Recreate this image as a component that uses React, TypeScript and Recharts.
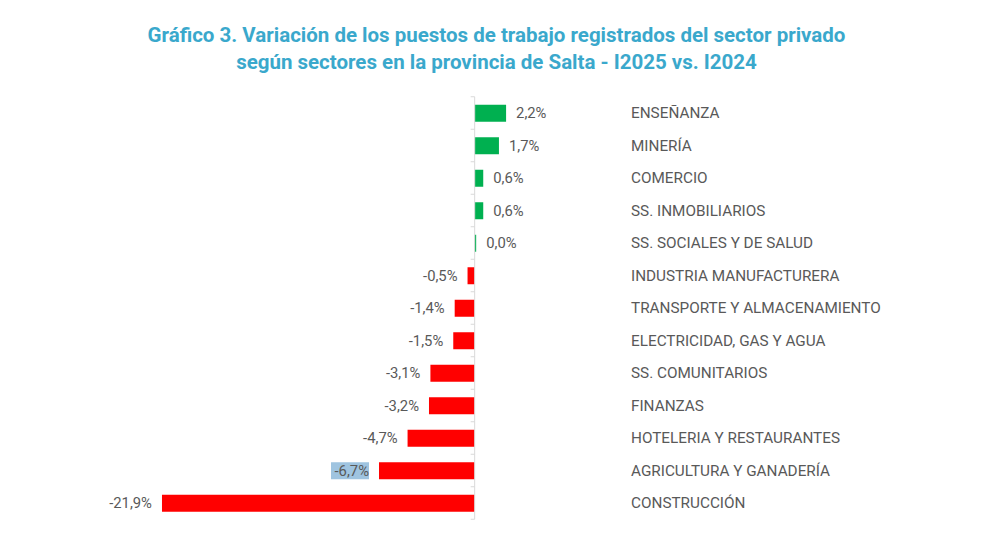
import React from "react";
import {
  BarChart,
  Bar,
  XAxis,
  YAxis,
  Cell,
  LabelList,
  ReferenceLine,
} from "recharts";

// Sectors, top to bottom
const sectors = [
  "ENSEÑANZA",
  "MINERÍA",
  "COMERCIO",
  "SS. INMOBILIARIOS",
  "SS. SOCIALES Y DE SALUD",
  "INDUSTRIA MANUFACTURERA",
  "TRANSPORTE Y ALMACENAMIENTO",
  "ELECTRICIDAD, GAS Y AGUA",
  "SS. COMUNITARIOS",
  "FINANZAS",
  "HOTELERIA Y RESTAURANTES",
  "AGRICULTURA Y GANADERÍA",
  "CONSTRUCCIÓN",
];

// Year-over-year change (%), I2025 vs. I2024
const variation = [2.2, 1.7, 0.6, 0.6, 0.0, -0.5, -1.4, -1.5, -3.1, -3.2, -4.7, -6.7, -21.9];

// Label that appears highlighted
const highlighted = ["AGRICULTURA Y GANADERÍA"];

const xDomain: [number, number] = [-24, 8];

const POSITIVE = "#00b050";
const NEGATIVE = "#ff0000";
const TEXT = "#595959";
const FONT = "Roboto, 'Noto Sans', sans-serif";

const data = sectors.map((sector, i) => ({ sector, value: variation[i] }));

const fmt = (v: number) => `${v.toFixed(1).replace(".", ",")}%`;

function ValueLabel(props: any) {
  const { x, y, width, height, value, index } = props;
  const left = Math.min(x, x + width);
  const right = Math.max(x, x + width);
  const cy = y + height / 2;
  const neg = value < 0;
  const tx = neg ? left - 10 : right + 10;
  const text = fmt(value);
  const isHl = highlighted.includes(sectors[index]);
  return (
    <g>
      {isHl && (
        <rect
          x={tx - 38}
          y={cy - 8.5}
          width={38}
          height={17}
          fill="#9fc4e0"
        />
      )}
      <text
        x={tx}
        y={cy}
        dy="0.35em"
        textAnchor={neg ? "end" : "start"}
        fontSize={14.8}
        fontFamily={FONT}
        fill={TEXT}
      >
        {text}
      </text>
    </g>
  );
}

// Zero axis with small tick marks between categories
function ZeroAxis(props: any) {
  const { x1, y1, y2 } = props;
  const top = Math.min(y1, y2);
  const bottom = Math.max(y1, y2);
  const step = (bottom - top) / sectors.length;
  const ticks = Array.from({ length: sectors.length + 1 }, (_, i) => top + i * step);
  return (
    <g>
      <line x1={x1} x2={x1} y1={top} y2={bottom} stroke="#d9d9d9" strokeWidth={1} />
      {ticks.map((t, i) => (
        <line key={i} x1={x1 - 4} x2={x1} y1={t} y2={t} stroke="#d9d9d9" strokeWidth={1} />
      ))}
    </g>
  );
}

export default function App() {
  return (
    <div
      style={{
        position: "absolute",
        left: 0,
        top: 0,
        width: 990,
        height: 535,
        background: "#ffffff",
      }}
    >
      <div
        style={{
          position: "absolute",
          left: 0,
          top: 22,
          width: 993,
          textAlign: "center",
          fontFamily: FONT,
          fontWeight: 700,
          fontSize: 20.5,
          lineHeight: "27px",
          color: "#3aa8cc",
        }}
      >
        Gráfico 3. Variación de los puestos de trabajo registrados del sector privado
        <br />
        según sectores en la provincia de Salta - I2025 vs. I2024
      </div>
      <BarChart
        width={990}
        height={535}
        data={data}
        layout="vertical"
        margin={{ top: 96.75, right: 0, bottom: 15.75, left: 132 }}
        barCategoryGap={0}
      >
        <XAxis type="number" dataKey="value" domain={xDomain} hide />
        <YAxis
          type="category"
          dataKey="sector"
          orientation="right"
          width={401.1}
          axisLine={false}
          tickLine={false}
          tickSize={0}
          tickMargin={42.1}
          interval={0}
          tick={{ fontSize: 15.3, fontFamily: FONT, fill: TEXT, textAnchor: "start" }}
        />
        <ReferenceLine x={0} shape={ZeroAxis} ifOverflow="extendDomain" />
        <Bar dataKey="value" barSize={17} minPointSize={1.5} isAnimationActive={false}>
          {data.map((d, i) => (
            <Cell key={i} fill={d.value < 0 ? NEGATIVE : POSITIVE} />
          ))}
          <LabelList dataKey="value" content={ValueLabel} />
        </Bar>
      </BarChart>
    </div>
  );
}
